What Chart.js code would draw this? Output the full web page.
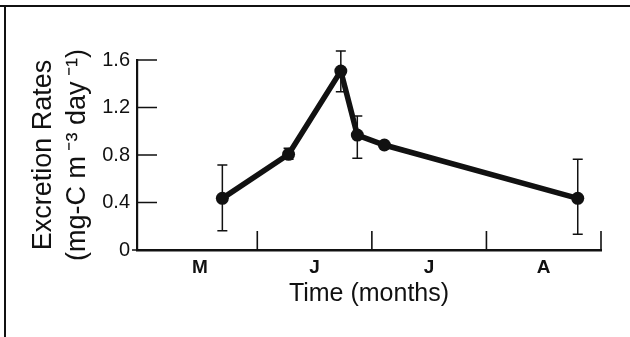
<!DOCTYPE html>
<html>
<head>
<meta charset="utf-8">
<script src="https://cdn.jsdelivr.net/npm/chart.js@4.4.1/dist/chart.umd.min.js"></script>
<style>
    body { margin: 0; background: #fff; }
    #wrap { width: 630px; height: 337px; }
</style>
</head>
<body>
<div id="wrap"><canvas id="myChart" width="630" height="337"></canvas></div>
<script>
// time in months from start of May (M=0..1, J=1..2, J=2..3, A=3..4)
const sampleMonths = [0.695, 1.273, 1.729, 1.873, 2.109, 3.797];
const excretion = [0.435, 0.806, 1.507, 0.968, 0.884, 0.435];
const errLow = [0.163, 0.764, 1.333, 0.772, null, 0.132];
const errHigh = [0.716, 0.856, 1.676, 1.128, null, 0.764];

const monthLabels = ['M', 'J', 'J', 'A'];
const monthCenters = [0.5, 1.5, 2.5, 3.5];
const monthEdges = [1, 2, 3, 4];
const yTickLabels = ['0', '0.4', '0.8', '1.2', '1.6'];

const FONT = "'Liberation Sans', Arial, Helvetica, sans-serif";
const INK = '#111';

const points = sampleMonths.map((m, i) => ({ x: m, y: excretion[i] }));

// error bars, inward tick marks and the page frame
const extras = {
    id: 'extras',
    beforeDraw(chart) {
        const ctx = chart.ctx;
        ctx.save();
        ctx.fillStyle = '#fff';
        ctx.fillRect(0, 0, chart.width, chart.height);
        ctx.strokeStyle = INK;
        ctx.lineWidth = 2;
        ctx.beginPath();
        ctx.moveTo(0, 6);
        ctx.lineTo(chart.width, 6);
        ctx.moveTo(5, 6);
        ctx.lineTo(5, chart.height);
        ctx.stroke();
        ctx.restore();
    },
    beforeDatasetsDraw(chart) {
        const ctx = chart.ctx;
        const x = chart.scales.x;
        const y = chart.scales.y;
        ctx.save();
        ctx.strokeStyle = INK;
        ctx.lineWidth = 1.6;
        ctx.beginPath();
        // month boundary ticks pointing up
        monthEdges.forEach(v => {
            const px = x.getPixelForValue(v);
            ctx.moveTo(px, y.bottom);
            ctx.lineTo(px, y.bottom - 19);
        });
        // y ticks pointing right
        [0.4, 0.8, 1.2, 1.6].forEach(v => {
            const py = y.getPixelForValue(v);
            ctx.moveTo(x.left, py);
            ctx.lineTo(x.left + 20, py);
        });
        // small stub left of the zero
        const y0 = y.getPixelForValue(0);
        ctx.moveTo(x.left - 5, y0);
        ctx.lineTo(x.left, y0);
        ctx.stroke();

        ctx.lineWidth = 1.5;
        ctx.beginPath();
        sampleMonths.forEach((m, i) => {
            if (errLow[i] === null) return;
            const px = x.getPixelForValue(m);
            const lo = y.getPixelForValue(errLow[i]);
            const hi = y.getPixelForValue(errHigh[i]);
            ctx.moveTo(px, lo);
            ctx.lineTo(px, hi);
            ctx.moveTo(px - 5, lo);
            ctx.lineTo(px + 5, lo);
            ctx.moveTo(px - 5, hi);
            ctx.lineTo(px + 5, hi);
        });
        ctx.stroke();
        ctx.restore();
    }
};

function drawChart() {
    const ctx = document.getElementById('myChart').getContext('2d');
    const myChart = new Chart(ctx, {
        type: 'scatter',
        data: {
            datasets: [{
                data: points,
                showLine: true,
                borderColor: INK,
                backgroundColor: INK,
                borderWidth: 5.5,
                pointRadius: 6.5,
                pointBorderWidth: 0,
                tension: 0,
                clip: false
            }]
        },
        options: {
            responsive: false,
            animation: false,
            layout: {
                padding: { left: 0, top: 60, right: 29, bottom: 0 }
            },
            scales: {
                x: {
                    type: 'linear',
                    min: -0.05,
                    max: 4,
                    afterBuildTicks: scale => {
                        scale.ticks = monthCenters.map(v => ({ value: v }));
                    },
                    afterFit: scale => { scale.height = 87; },
                    grid: { display: false, drawTicks: false },
                    border: { display: true, color: INK, width: 2.5 },
                    ticks: {
                        padding: 6,
                        color: INK,
                        font: { family: FONT, size: 19, weight: 'bold' },
                        maxRotation: 0,
                        callback: (value, index) => monthLabels[index]
                    },
                    title: {
                        display: true,
                        text: 'Time (months)',
                        color: INK,
                        font: { family: FONT, size: 25 },
                        padding: { top: 0, bottom: 28 }
                    }
                },
                y: {
                    min: 0,
                    max: 1.6,
                    afterFit: scale => { scale.width = 137; },
                    grid: { display: false, drawTicks: false },
                    border: { display: true, color: INK, width: 2.2 },
                    ticks: {
                        stepSize: 0.4,
                        padding: 7,
                        color: INK,
                        font: { family: FONT, size: 20 },
                        callback: (value, index) => yTickLabels[index]
                    },
                    title: {
                        display: true,
                        text: ['Excretion Rates', '(mg-C m\u2009\u207B\u00B3 day\u2009\u207B\u00B9)'],
                        color: INK,
                        font: { family: FONT, size: 27, lineHeight: 1.27 },
                        padding: { top: 26, bottom: 0 }
                    }
                }
            },
            plugins: {
                legend: { display: false },
                tooltip: { enabled: false }
            }
        },
        plugins: [extras]
    });
}

drawChart();
</script>
</body>
</html>
